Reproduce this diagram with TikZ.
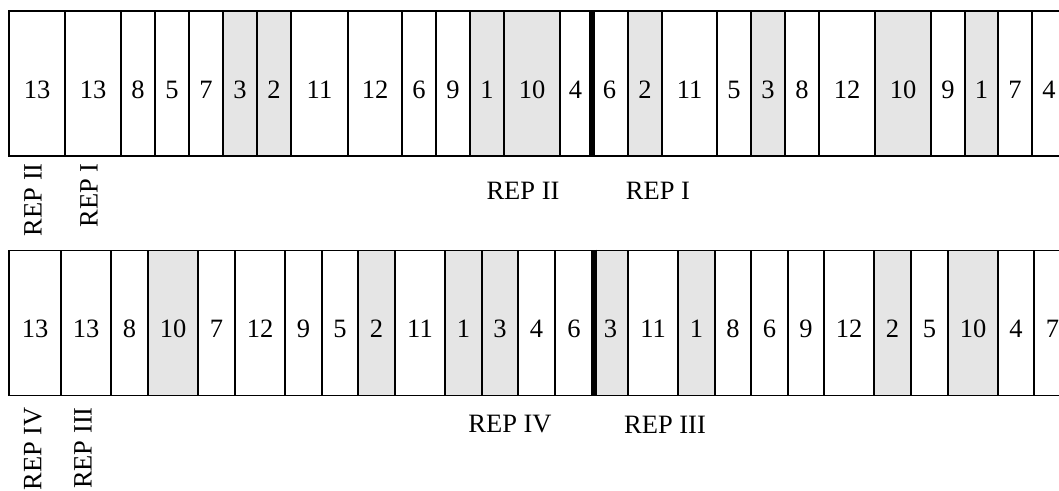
\documentclass[tikz,border=0pt]{standalone}
\usepackage{fontspec}
\setmainfont{Liberation Serif}
\usepackage{xcolor}
\definecolor{plotgrey}{RGB}{229,229,229}
\tikzset{
  plotnode/.style={rectangle,draw=black,line width=1.8pt,minimum height=145pt,inner sep=0pt,
    text height=29.5pt,text depth=0pt,fill=white},
  checknode/.style={plotnode,fill=plotgrey},
  replabel/.style={inner sep=0pt},
  repsep/.style={line width=6.5pt,draw=black}
}

\begin{document}
\begin{tikzpicture}[x=1pt,y=-1pt,font=\fontsize{26.5}{31}\selectfont]
  \useasboundingbox (0,0) rectangle (1059,490);
  \clip (0,0) rectangle (1059,490);
  % upper strip: left edge/right edge/entry/style
  \foreach \l/\r/\n/\s [count=\i] in {
      9/65/13/plotnode, 65/121/13/plotnode, 121/155/8/plotnode, 155/189/5/plotnode,
      189/223/7/plotnode, 223/257/3/checknode, 257/291/2/checknode, 291/348/11/plotnode,
      348/402/12/plotnode, 402/436/6/plotnode, 436/470/9/plotnode, 470/504/1/checknode,
      504/560/10/checknode, 560/591/4/plotnode, 591/628/6/plotnode, 628/662/2/checknode,
      662/717/11/plotnode, 717/751/5/plotnode, 751/785/3/checknode, 785/819/8/plotnode,
      819/875/12/plotnode, 875/931/10/checknode, 931/965/9/plotnode, 965/998/1/checknode,
      998/1032/7/plotnode, 1032/1066/4/plotnode}
    \node[\s,minimum width={(\r-\l)*1pt}] (t\i) at ({(\l+\r)/2},83.5) {\n};
  % lower strip
  \foreach \l/\r/\n/\s [count=\i] in {
      9/61/13/plotnode, 61/111/13/plotnode, 111/148/8/plotnode, 148/198/10/checknode,
      198/235/7/plotnode, 235/285/12/plotnode, 285/322/9/plotnode, 322/358/5/plotnode,
      358/395/2/checknode, 395/445/11/plotnode, 445/482/1/checknode, 482/518/3/checknode,
      518/555/4/plotnode, 555/593/6/plotnode, 593/628/3/checknode, 628/678/11/plotnode,
      678/715/1/checknode, 715/751/8/plotnode, 751/788/6/plotnode, 788/824/9/plotnode,
      824/874/12/plotnode, 874/911/2/checknode, 911/948/5/plotnode, 948/998/10/checknode,
      998/1034/4/plotnode, 1034/1071/7/plotnode}
    \node[\s,minimum width={(\r-\l)*1pt}] (b\i) at ({(\l+\r)/2},323) {\n};
  % boundaries between the replicates
  \draw[repsep] (t14.north east) -- (t14.south east);
  \draw[repsep] (b14.north east) -- (b14.south east);
  % replicate names
  \node[replabel,rotate=90,anchor=east] (repIIa) at (33,163) {REP II};
  \node[replabel,rotate=90,anchor=east] (repIa) at (89,163) {REP I};
  \node[replabel,anchor=base] (repIIb) at (523,199) {REP II};
  \node[replabel,anchor=base] (repIb) at (658,199) {REP I};
  \node[replabel,rotate=90,anchor=east] (repIVa) at (33,407) {REP IV};
  \node[replabel,rotate=90,anchor=east] (repIIIa) at (83,407) {REP III};
  \node[replabel,anchor=base] (repIVb) at (510,432) {REP IV};
  \node[replabel,anchor=base] (repIIIb) at (665,433) {REP III};
\end{tikzpicture}
\end{document}
